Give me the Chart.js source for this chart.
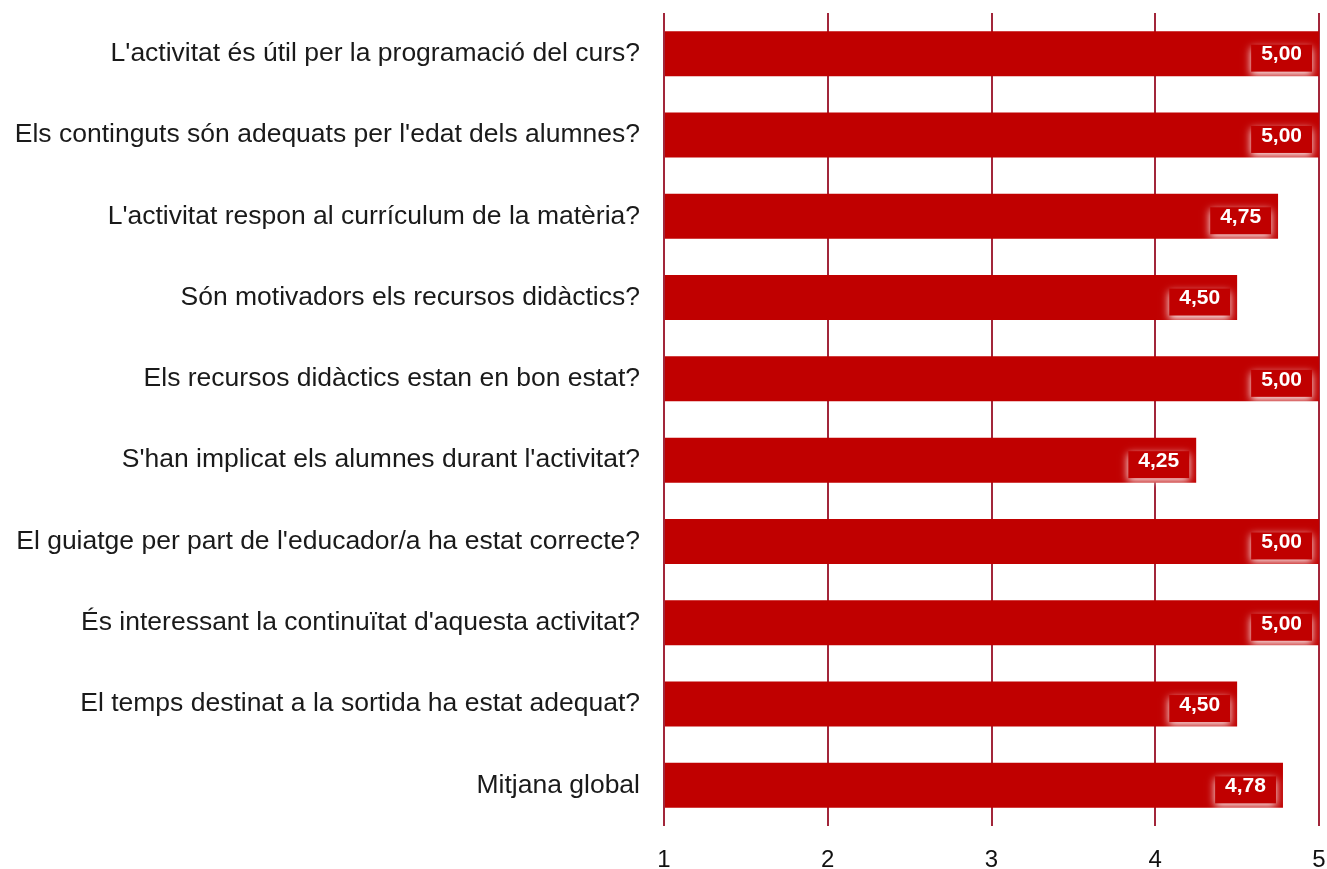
<!DOCTYPE html>
<html>
<head>
<meta charset="utf-8">
<script src="https://cdn.jsdelivr.net/npm/chart.js@4"></script>
<style>
  html, body { margin: 0; padding: 0; background: #fff; }
  #wrap { width: 1327px; height: 869px; }
</style>
</head>
<body>
<div id="wrap"><canvas id="bar-chart"></canvas></div>
<script>
var questions = [
    "L'activitat és útil per la programació del curs?",
    "Els continguts són adequats per l'edat dels alumnes?",
    "L'activitat respon al currículum de la matèria?",
    "Són motivadors els recursos didàctics?",
    "Els recursos didàctics estan en bon estat?",
    "S'han implicat els alumnes durant l'activitat?",
    "El guiatge per part de l'educador/a ha estat correcte?",
    "És interessant la continuïtat d'aquesta activitat?",
    "El temps destinat a la sortida ha estat adequat?",
    "Mitjana global"
];
var scores = [5.00, 5.00, 4.75, 4.50, 5.00, 4.25, 5.00, 5.00, 4.50, 4.78];
var scaleTicks = [1, 2, 3, 4, 5];

var barColor = "#c00000";

// white value boxes at the end of each bar
var valueLabels = {
    id: 'valueLabels',
    afterDatasetsDraw: function (chart) {
        var ctx = chart.ctx;
        var meta = chart.getDatasetMeta(0);
        ctx.save();
        ctx.font = "bold 21px 'Liberation Sans', Arial, sans-serif";
        meta.data.forEach(function (bar, i) {
            var txt = scores[i].toFixed(2).replace('.', ',');
            var w = ctx.measureText(txt).width + 20;
            var h = 27;
            var right = bar.x - 7;
            var top = bar.y - 9;
            ctx.shadowColor = 'rgba(255,255,255,0.95)';
            ctx.shadowBlur = 8;
            ctx.shadowOffsetY = 3;
            ctx.fillStyle = barColor;
            ctx.fillRect(right - w, top, w, h);
            ctx.shadowColor = 'transparent';
            ctx.shadowBlur = 0;
            ctx.shadowOffsetY = 0;
            ctx.fillStyle = '#fff';
            ctx.textAlign = 'center';
            ctx.textBaseline = 'middle';
            ctx.fillText(txt, right - w / 2, bar.y + 1);
        });
        ctx.restore();
    }
};

var ctx = document.getElementById('bar-chart').getContext('2d');
var myChart = new Chart(ctx, {
    type: 'bar',
    data: {
        labels: questions,
        datasets: [
        {
            data: scores,
            backgroundColor: barColor,
            borderWidth: 0,
            categoryPercentage: 0.553,
            barPercentage: 1.0,
            base: 1
        }
        ]
    },
    options: {
        indexAxis: 'y',
        responsive: true,
        maintainAspectRatio: false,
        animation: false,
        layout: { padding: { top: 13, right: 8, left: 0, bottom: 0 } },
        plugins: {
            legend: { display: false },
            tooltip: { enabled: false }
        },
        scales: {
            x: {
                min: 1,
                max: 5,
                afterBuildTicks: function (scale) {
                    scale.ticks = scaleTicks.map(function (v) { return { value: v }; });
                },
                afterFit: function (scale) {
                    scale.height = 43;
                    scale.paddingLeft = 0;
                    scale.paddingRight = 0;
                },
                grid: {
                    color: '#a2263a',
                    lineWidth: 2,
                    drawTicks: false
                },
                border: { display: false },
                ticks: {
                    padding: 20,
                    color: '#111',
                    font: { family: "'Liberation Sans', Arial, sans-serif", size: 24 }
                }
            },
            y: {
                afterFit: function (scale) {
                    scale.width = 664;
                    scale.paddingTop = 0;
                    scale.paddingBottom = 0;
                },
                grid: { display: false, drawTicks: false },
                border: { display: false },
                ticks: {
                    padding: 24,
                    color: '#1a1a1a',
                    autoSkip: false,
                    font: { family: "'Liberation Sans', Arial, sans-serif", size: 26.5 }
                }
            }
        }
    },
    plugins: [valueLabels]
});
</script>
</body>
</html>
